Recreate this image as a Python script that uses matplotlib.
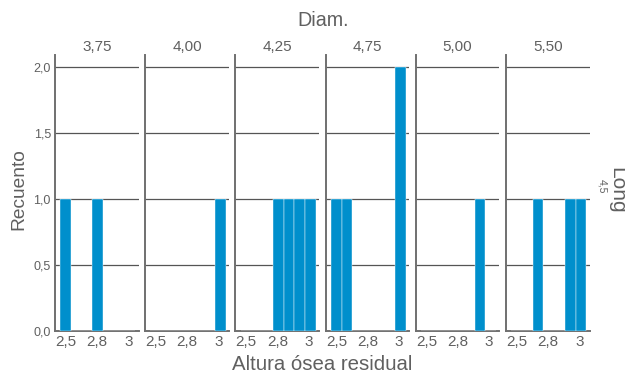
import matplotlib
matplotlib.use('Agg')
import matplotlib.pyplot as plt
from matplotlib.ticker import FuncFormatter

plt.rcParams['font.family'] = ['Liberation Sans', 'DejaVu Sans']

# facet values and histogram counts
DIAM_LABELS = ['3,75', '4,00', '4,25', '4,75', '5,00', '5,50']
BIN_EDGES = [2.455, 2.541, 2.627, 2.713, 2.799, 2.885, 2.971, 3.057]
COUNTS = [
    [1, 0, 0, 1, 0, 0, 0],
    [0, 0, 0, 0, 0, 0, 1],
    [0, 0, 0, 1, 1, 1, 1],
    [1, 1, 0, 0, 0, 0, 2],
    [0, 0, 0, 0, 0, 1, 0],
    [0, 0, 1, 0, 0, 1, 1],
]
X_TICKS = [2.5, 2.75, 3.0]
X_TICKLABELS = ['2,5', '2,8', '3']
Y_TICKS = [0.0, 0.5, 1.0, 1.5, 2.0]
LONG_LABEL = '4,5'

BAR_COLOR = '#008fcc'
TEXT = '#606060'
W, H = 625, 373

fig = plt.figure(figsize=(W / 100, H / 100), dpi=100)

left0, step, width = 55, 90.2, 83.5
bottom, top = 331, 55

for i, (lab, counts) in enumerate(zip(DIAM_LABELS, COUNTS)):
    x0 = left0 + i * step
    ax = fig.add_axes([x0 / W, (H - bottom) / H, width / W, (bottom - top) / H])
    lefts = BIN_EDGES[:-1]
    widths = [b - a for a, b in zip(BIN_EDGES[:-1], BIN_EDGES[1:])]
    ax.bar(lefts, counts, width=widths, align='edge', color=BAR_COLOR,
           edgecolor='white', linewidth=0.3, zorder=3)
    ax.set_xlim(2.413, 3.082)
    ax.set_ylim(0, 2.09)
    ax.set_yticks(Y_TICKS)
    for y in Y_TICKS[1:]:
        ax.axhline(y, color='#555555', lw=0.9, zorder=1)
    ax.set_xticks(X_TICKS)
    ax.set_xticklabels(X_TICKLABELS)
    ax.tick_params(axis='x', length=0, pad=3, labelsize=11, labelcolor=TEXT)
    ax.tick_params(axis='y', length=0, pad=3, labelsize=9, labelcolor=TEXT)
    if i == 0:
        ax.yaxis.set_major_formatter(FuncFormatter(lambda v, p: f'{v:.1f}'.replace('.', ',')))
    else:
        ax.set_yticklabels([])
    for s in ['top', 'right']:
        ax.spines[s].set_visible(False)
    for s in ['left', 'bottom']:
        ax.spines[s].set_color('#707070')
        ax.spines[s].set_linewidth(1.4)
    ax.set_title(lab, fontsize=11, color=TEXT, pad=3)

fig.text(323 / W, 1 - 20 / H, 'Diam.', ha='center', va='center', fontsize=14.2, color=TEXT)
fig.text(322 / W, 1 - 364 / H, 'Altura ósea residual', ha='center', va='center', fontsize=14.7, color=TEXT)
fig.text(18.5 / W, 1 - 189 / H, 'Recuento', rotation=90, ha='center', va='center', fontsize=13.8, color=TEXT)
fig.text(617 / W, 1 - 190 / H, 'Long', rotation=-90, ha='center', va='center', fontsize=15, color=TEXT)
fig.text(602 / W, 1 - 186 / H, LONG_LABEL, rotation=-90, ha='center', va='center', fontsize=7.5, color=TEXT)

fig.savefig('out.png', dpi=100)
